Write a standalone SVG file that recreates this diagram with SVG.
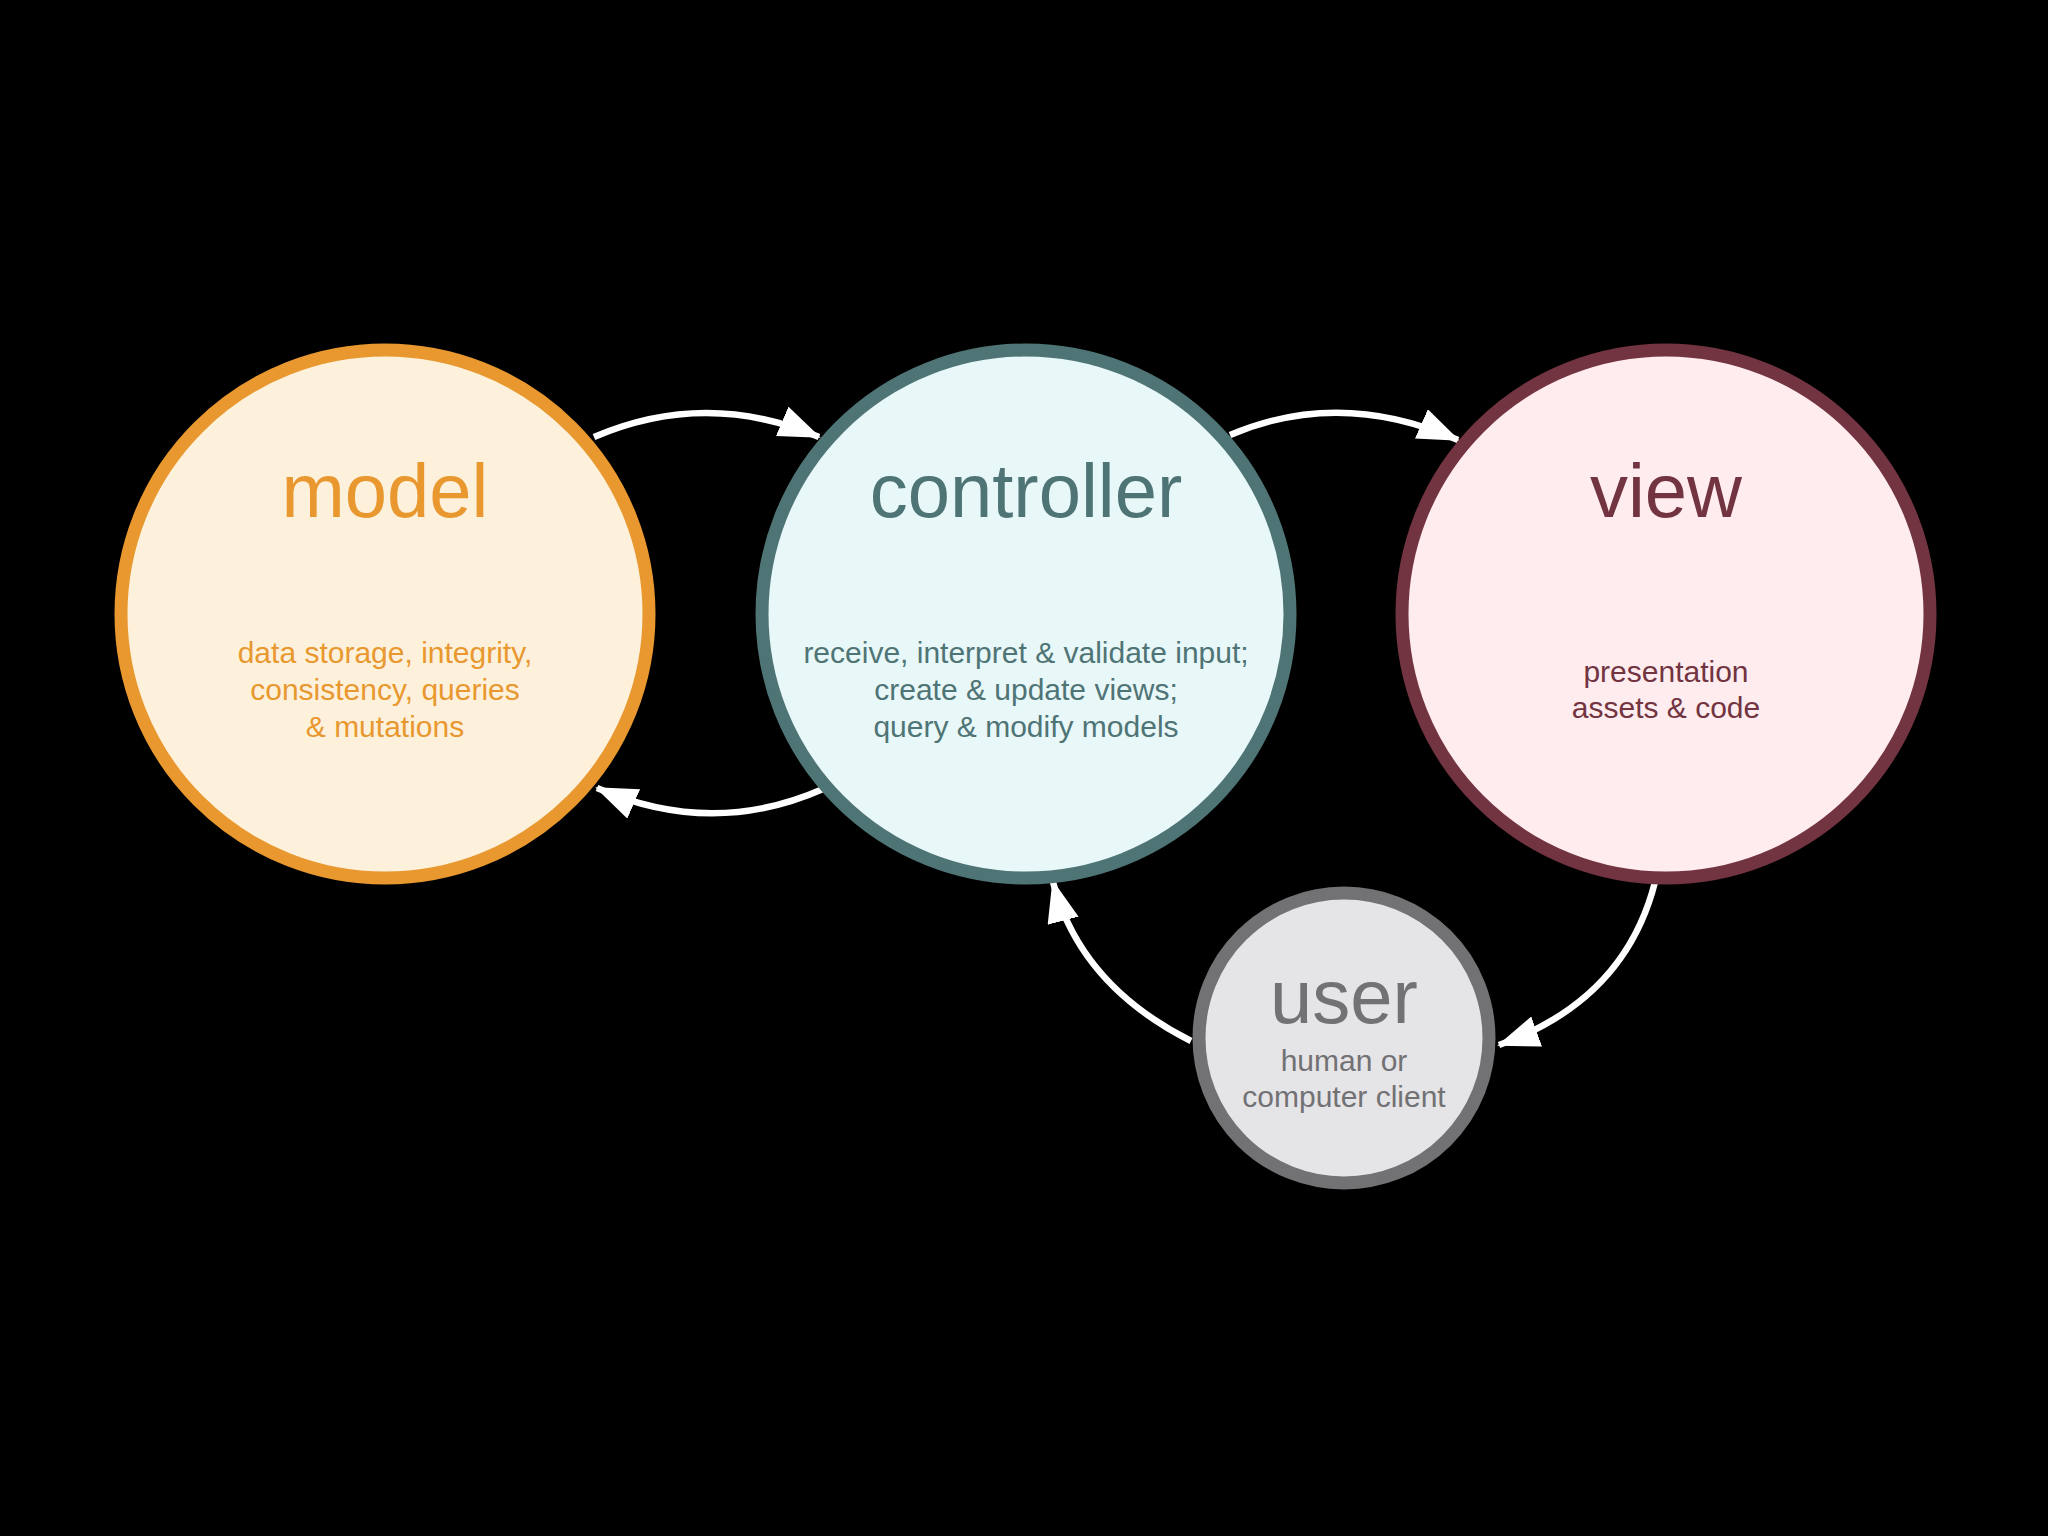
<svg xmlns="http://www.w3.org/2000/svg" width="2048" height="1536" viewBox="0 0 2048 1536">
<style>
text{font-family:"Liberation Sans",Arial,Helvetica,sans-serif;text-anchor:middle}
.title{font-size:76px}
.sub{font-size:30px}
.ring{stroke-width:13}
.conn{fill:none;stroke:#ffffff;stroke-width:6.5;stroke-linecap:butt}
</style>
<defs>
<marker id="ah" viewBox="0 0 42 32" refX="40" refY="16" markerWidth="42" markerHeight="32" markerUnits="userSpaceOnUse" orient="auto">
<path d="M0,0 L42,16 L0,32 z" fill="#ffffff"/>
</marker>
</defs>
<rect x="0" y="0" width="2048" height="1536" fill="#000000"/>
<g id="connectors">
<path class="conn" d="M594,437 Q706,389 819,437" marker-end="url(#ah)"/>
<path class="conn" d="M1230,435 Q1340,388 1458,440" marker-end="url(#ah)"/>
<path class="conn" d="M823,789 Q712,838 597,788" marker-end="url(#ah)"/>
<path class="conn" d="M1655,882 Q1625,1000 1499,1045" marker-end="url(#ah)"/>
<path class="conn" d="M1191,1041 Q1080,985 1053,882" marker-end="url(#ah)"/>
</g>
<g id="model">
<circle class="ring" cx="385" cy="614" r="264" fill="#FEF1DC" stroke="#E8982E"/>
<text class="title" x="385" y="517" fill="#E8982E">model</text>
<text class="sub" x="385" y="663" fill="#E8982E">data storage, integrity,</text>
<text class="sub" x="385" y="700" fill="#E8982E">consistency, queries</text>
<text class="sub" x="385" y="737" fill="#E8982E">&amp; mutations</text>
</g>
<g id="controller">
<circle class="ring" cx="1026" cy="614" r="264" fill="#E8F7F8" stroke="#4F7475"/>
<text class="title" x="1026" y="517" fill="#4F7475">controller</text>
<text class="sub" x="1026" y="663" fill="#4F7475">receive, interpret &amp; validate input;</text>
<text class="sub" x="1026" y="700" fill="#4F7475">create &amp; update views;</text>
<text class="sub" x="1026" y="737" fill="#4F7475">query &amp; modify models</text>
</g>
<g id="view">
<circle class="ring" cx="1666" cy="614" r="264" fill="#FEECEE" stroke="#733441"/>
<text class="title" x="1666" y="517" fill="#733441">view</text>
<text class="sub" x="1666" y="682" fill="#733441">presentation</text>
<text class="sub" x="1666" y="718" fill="#733441">assets &amp; code</text>
</g>
<g id="user">
<circle class="ring" cx="1344" cy="1038" r="145" fill="#E5E4E7" stroke="#727174"/>
<text class="title" x="1344" y="1023" fill="#727174">user</text>
<text class="sub" x="1344" y="1071" fill="#727174">human or</text>
<text class="sub" x="1344" y="1107" fill="#727174">computer client</text>
</g>
</svg>
